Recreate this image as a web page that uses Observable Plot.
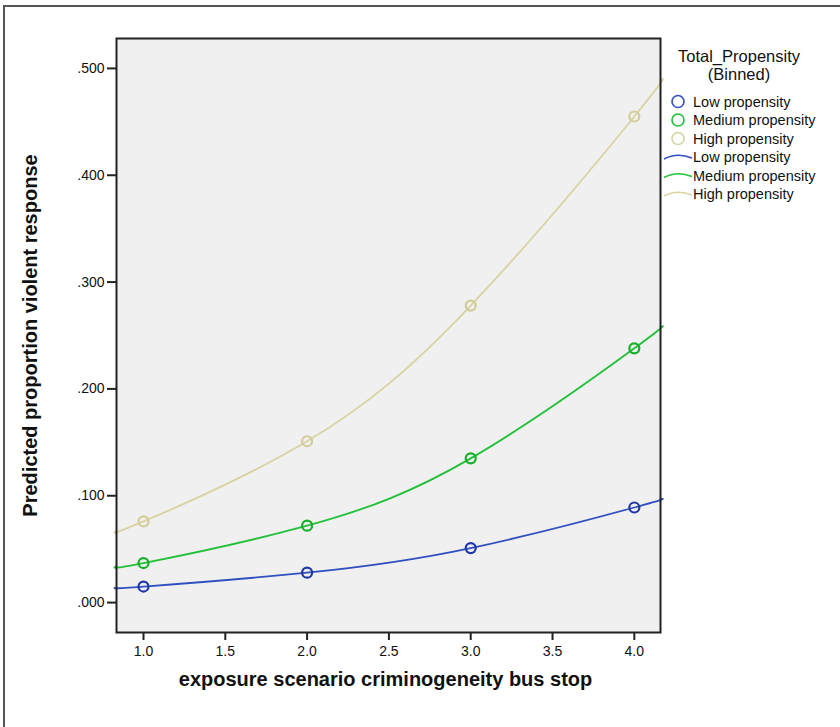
<!DOCTYPE html>
<html>
<head>
<meta charset="utf-8">
<script src="https://cdn.jsdelivr.net/npm/d3@7"></script>
<script src="https://cdn.jsdelivr.net/npm/@observablehq/plot@0.6"></script>
<style>
  html, body { margin: 0; padding: 0; background: #fff; }
  #wrap { position: relative; width: 840px; height: 727px; overflow: hidden; font-family: "Liberation Sans", Arial, sans-serif; }
  #outer { position: absolute; left: 3px; top: 5px; width: 900px; height: 800px; border-left: 2px solid #555; border-top: 2px solid #555; pointer-events: none; }
  #legend { position: absolute; left: 660px; top: 40px; width: 180px; }
</style>
</head>
<body>
<div id="wrap">
  <div id="outer"></div>
  <div id="chart"></div>
  <div id="legend"></div>
</div>
<script>
// ---- data ----
const groups = ["Low propensity", "Medium propensity", "High propensity"];
const colors = ["#3050c0", "#22c038", "#d8d3a0"];
const markerColors = ["#1e38a8", "#14b02a", "#d2cc98"];
const scenarioX = [1, 2, 3, 4];
const lowValues = [0.015, 0.028, 0.051, 0.089];
const mediumValues = [0.037, 0.072, 0.135, 0.238];
const highValues = [0.076, 0.151, 0.278, 0.455];
// fitted curves (incl. the ends at the frame edges)
const curveX = [0.835, 1, 2, 3, 4, 4.16];
const lowCurve = [0.014, 0.015, 0.028, 0.051, 0.089, 0.097];
const mediumCurve = [0.034, 0.037, 0.072, 0.135, 0.238, 0.258];
const highCurve = [0.067, 0.076, 0.151, 0.278, 0.455, 0.489];
const yTicks = [0, 0.1, 0.2, 0.3, 0.4, 0.5];
const xTicks = [1, 1.5, 2, 2.5, 3, 3.5, 4];

const pointSeries = [lowValues, mediumValues, highValues];
const curveSeries = [lowCurve, mediumCurve, highCurve];
const points = [];
pointSeries.forEach((vals, g) => vals.forEach((v, i) => points.push({group: groups[g], x: scenarioX[i], y: v})));
const curves = [];
curveSeries.forEach((vals, g) => vals.forEach((v, i) => curves.push({group: groups[g], x: curveX[i], y: v})));

const fmtY = d => d3.format(".3f")(d).replace(/^0/, "");
const fmtX = d3.format(".1f");

const chart = Plot.plot({
  width: 840,
  height: 727,
  marginLeft: 116,
  marginRight: 180,
  marginTop: 38,
  marginBottom: 95,
  style: {fontFamily: "Liberation Sans, Arial, sans-serif", color: "#111", background: "transparent"},
  x: {domain: [0.835, 4.16]},
  y: {domain: [-0.028, 0.528]},
  color: {domain: groups, range: colors},
  marks: [
    Plot.frame({fill: "#f0f0f0"}),
    Plot.line(curves, {x: "x", y: "y", z: "group", stroke: "group", curve: "natural", strokeWidth: 1.8}),
    Plot.dot(points, {x: "x", y: "y", r: 5, strokeWidth: 2.2, stroke: d => markerColors[groups.indexOf(d.group)], fill: "none"}),
    Plot.frame({stroke: "#222", strokeWidth: 2}),
    Plot.axisY({ticks: yTicks, tickFormat: () => "", tickSize: 9, strokeWidth: 2, stroke: "#222", label: null}),
    Plot.axisX({ticks: xTicks, tickFormat: () => "", tickSize: 8, strokeWidth: 2, stroke: "#222", label: null}),
    Plot.text(yTicks, {y: d => d, frameAnchor: "left", text: fmtY, textAnchor: "end", dx: -12, fontSize: 14, fill: "#111"}),
    Plot.text(xTicks, {x: d => d, frameAnchor: "bottom", text: fmtX, textAnchor: "middle", lineAnchor: "top", dy: 14, fontSize: 14, fill: "#111"}),
    Plot.text(["Predicted proportion violent response"], {frameAnchor: "left", textAnchor: "middle", dx: -86, rotate: -90, fontWeight: "bold", fontSize: 20, fill: "#111"}),
    Plot.text(["exposure scenario criminogeneity bus stop"], {frameAnchor: "bottom", textAnchor: "middle", dx: -3, dy: 53, fontWeight: "bold", fontSize: 20, fill: "#111"})
  ]
});
document.getElementById("chart").appendChild(chart);

// ---- legend ----
const ns = "http://www.w3.org/2000/svg";
const lg = document.createElementNS(ns, "svg");
lg.setAttribute("width", 180);
lg.setAttribute("height", 175);
lg.style.fontFamily = "Liberation Sans, Arial, sans-serif";
function txt(x, y, s, size, anchor) {
  const t = document.createElementNS(ns, "text");
  t.setAttribute("x", x); t.setAttribute("y", y);
  t.setAttribute("font-size", size);
  t.setAttribute("fill", "#111");
  if (anchor) t.setAttribute("text-anchor", anchor);
  t.textContent = s;
  lg.appendChild(t);
}
txt(79, 22, "Total_Propensity", 16.5, "middle");
txt(79, 39.5, "(Binned)", 16.5, "middle");
groups.forEach((g, i) => {
  const y = 61.5 + i * 18.5;
  const c = document.createElementNS(ns, "circle");
  c.setAttribute("cx", 18); c.setAttribute("cy", y);
  c.setAttribute("r", 6); c.setAttribute("fill", "none");
  c.setAttribute("stroke", colors[i]); c.setAttribute("stroke-width", 1.6);
  lg.appendChild(c);
  txt(33, y + 5, g, 14.5);
});
groups.forEach((g, i) => {
  const y = 117 + i * 18.5;
  const p = document.createElementNS(ns, "path");
  p.setAttribute("d", `M4,${y + 2} Q17,${y - 5} 32,${y + 1}`);
  p.setAttribute("fill", "none");
  p.setAttribute("stroke", colors[i]); p.setAttribute("stroke-width", 1.6);
  lg.appendChild(p);
  txt(33, y + 5, g, 14.5);
});
document.getElementById("legend").appendChild(lg);
</script>
</body>
</html>
